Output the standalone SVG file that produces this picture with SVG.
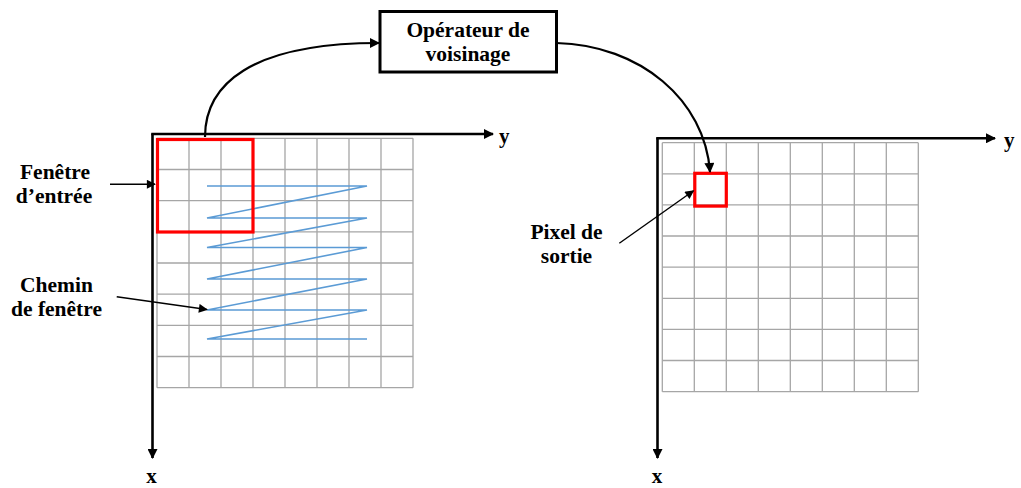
<svg xmlns="http://www.w3.org/2000/svg" width="1021" height="488" viewBox="0 0 1021 488">
<style>
.grid{stroke:#a6a6a6;stroke-width:1.3;fill:none}
.axis{stroke:#000;stroke-width:2.6;fill:none}
.conn{stroke:#000;stroke-width:2.2;fill:none}
.thin{stroke:#000;stroke-width:1.4;fill:none}
.red{stroke:#ff0000;stroke-width:3.2;fill:none}
.path{stroke:#5b9bd5;stroke-width:1.6;fill:none;stroke-linejoin:miter}
text{font-family:"Liberation Serif","Times New Roman",serif;font-weight:bold;fill:#000}
.lbl{font-size:21.5px;text-anchor:middle}
.ax{font-size:21px}
</style>
<defs>
<marker id="ah" viewBox="0 0 10 10" refX="9" refY="5" markerWidth="12" markerHeight="10" markerUnits="userSpaceOnUse" orient="auto"><path d="M0,0 L10,5 L0,10 z" fill="#000"/></marker>
<marker id="ahs" viewBox="0 0 10 10" refX="9" refY="5" markerWidth="11" markerHeight="9" markerUnits="userSpaceOnUse" orient="auto"><path d="M0,0 L10,5 L0,10 z" fill="#000"/></marker>
</defs>

<g id="input-grid">
<path class="grid" d="M157,138.3V387.7M189,138.3V387.7M221,138.3V387.7M253,138.3V387.7M285,138.3V387.7M317,138.3V387.7M349,138.3V387.7M381,138.3V387.7M413,138.3V387.7M157,138.3H413M157,169.5H413M157,200.7H413M157,231.9H413M157,263H413M157,294.2H413M157,325.4H413M157,356.5H413M157,387.7H413"/>
<polyline class="path" points="207,186 367,186 207,218 367,218 207,247.5 367,247.5 207,279 367,279 207,310 367,310 207,339 367,339"/>
<rect class="red" x="157.5" y="139.5" width="95.5" height="92.5"/>
</g>

<g id="input-axes">
<path class="axis" d="M152.5,133.5V458" marker-end="url(#ah)"/>
<path class="axis" d="M151.3,134H493" marker-end="url(#ah)"/>
<text class="ax" x="499" y="143">y</text>
<text class="ax" x="151.5" y="483" text-anchor="middle">x</text>
</g>

<g id="output-grid">
<path class="grid" d="M662.3,142.7V391.7M694.3,142.7V391.7M726.3,142.7V391.7M758.3,142.7V391.7M790.3,142.7V391.7M822.3,142.7V391.7M854.3,142.7V391.7M886.3,142.7V391.7M918.3,142.7V391.7M662.3,142.7H918.3M662.3,173.8H918.3M662.3,204.9H918.3M662.3,236H918.3M662.3,267.2H918.3M662.3,298.3H918.3M662.3,329.4H918.3M662.3,360.5H918.3M662.3,391.7H918.3"/>
<rect class="red" x="694.8" y="173.3" width="31.5" height="32.8"/>
</g>

<g id="output-axes">
<path class="axis" d="M657.5,137.5V458" marker-end="url(#ah)"/>
<path class="axis" d="M656.3,138.3H995" marker-end="url(#ah)"/>
<text class="ax" x="1004" y="147">y</text>
<text class="ax" x="657" y="483" text-anchor="middle">x</text>
</g>

<g id="operator">
<rect x="380" y="11.5" width="176.5" height="60.5" fill="#fff" stroke="#000" stroke-width="3"/>
<text class="lbl" x="468" y="37">Opérateur de</text>
<text class="lbl" x="468" y="61">voisinage</text>
</g>

<g id="label-fenetre">
<text class="lbl" x="55" y="179">Fenêtre</text>
<text class="lbl" x="54" y="203">d’entrée</text>
</g>

<g id="label-chemin">
<text class="lbl" x="56.5" y="292">Chemin</text>
<text class="lbl" x="56.5" y="316">de fenêtre</text>
</g>

<g id="label-pixel">
<text class="lbl" x="566.5" y="239">Pixel de</text>
<text class="lbl" x="566.5" y="263">sortie</text>
</g>

<g id="connectors">
<path class="conn" d="M205,137 C205,85 250,43 379,43" marker-end="url(#ah)"/>
<path class="conn" d="M556.5,43 C640,45 705,100 710,172" marker-end="url(#ah)"/>
<path class="thin" d="M110,184.3H155" marker-end="url(#ahs)"/>
<path class="thin" d="M116.7,296.7L207,309.5" marker-end="url(#ahs)"/>
<path class="thin" d="M619.3,243.3L693.5,190.7" marker-end="url(#ahs)"/>
</g>
</svg>
